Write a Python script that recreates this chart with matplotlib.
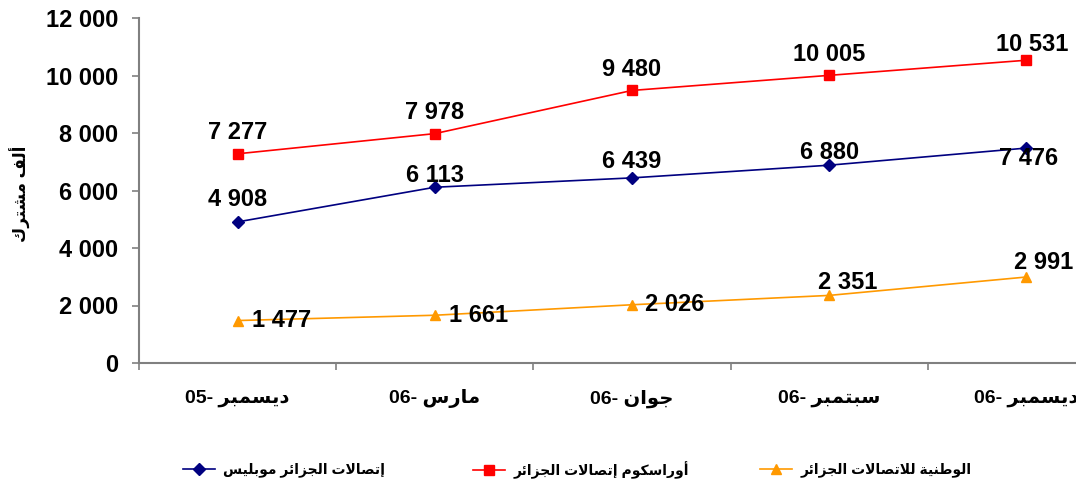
import matplotlib
matplotlib.use("Agg")
import matplotlib.pyplot as plt
from matplotlib.ticker import FixedLocator

# --- data ---
months = ["ديسمبر", "مارس", "جوان", "سبتمبر", "ديسمبر"]
years = ["05", "06", "06", "06", "06"]
mobilis = [4908, 6113, 6439, 6880, 7476]
djezzy = [7277, 7978, 9480, 10005, 10531]
nedjma = [1477, 1661, 2026, 2351, 2991]
names = ["إتصالات الجزائر موبليس", "أوراسكوم إتصالات الجزائر", "الوطنية للاتصالات الجزائر"]
y_title = "ألف مشترك"
y_ticks = [0, 2000, 4000, 6000, 8000, 10000, 12000]

# --- tiny arabic shaper (matplotlib has no shaping / bidi) ---
# char -> (first presentation-form codepoint, number of forms)
_forms = {
    "ء": (0xFE80, 1), "آ": (0xFE81, 2), "أ": (0xFE83, 2), "ؤ": (0xFE85, 2),
    "إ": (0xFE87, 2), "ئ": (0xFE89, 4), "ا": (0xFE8D, 2), "ب": (0xFE8F, 4),
    "ة": (0xFE93, 2), "ت": (0xFE95, 4), "ث": (0xFE99, 4), "ج": (0xFE9D, 4),
    "ح": (0xFEA1, 4), "خ": (0xFEA5, 4), "د": (0xFEA9, 2), "ذ": (0xFEAB, 2),
    "ر": (0xFEAD, 2), "ز": (0xFEAF, 2), "س": (0xFEB1, 4), "ش": (0xFEB5, 4),
    "ص": (0xFEB9, 4), "ض": (0xFEBD, 4), "ط": (0xFEC1, 4), "ظ": (0xFEC5, 4),
    "ع": (0xFEC9, 4), "غ": (0xFECD, 4), "ف": (0xFED1, 4), "ق": (0xFED5, 4),
    "ك": (0xFED9, 4), "ل": (0xFEDD, 4), "م": (0xFEE1, 4), "ن": (0xFEE5, 4),
    "ه": (0xFEE9, 4), "و": (0xFEED, 2), "ى": (0xFEEF, 2), "ي": (0xFEF1, 4),
}
_lamalef = {"آ": 0xFEF5, "أ": 0xFEF7, "إ": 0xFEF9, "ا": 0xFEFB}


def shape(s):
    toks = []
    i = 0
    while i < len(s):
        c = s[i]
        if c == "ل" and i + 1 < len(s) and s[i + 1] in _lamalef:
            toks.append((_lamalef[s[i + 1]], 2))
            i += 2
            continue
        if c in _forms:
            toks.append(_forms[c])
        else:
            toks.append((c, 0))
        i += 1
    out = []
    for k, (base, n) in enumerate(toks):
        if n == 0:
            out.append(base)
            continue
        prev_ok = k > 0 and toks[k - 1][1] == 4
        next_ok = n == 4 and k + 1 < len(toks) and toks[k + 1][1] > 0
        if n == 1:
            form = 0
        elif prev_ok and next_ok:
            form = 3
        elif prev_ok:
            form = 1
        elif next_ok:
            form = 2
        else:
            form = 0
        out.append(chr(base + form))
    return "".join(reversed(out))


fam = ["Liberation Sans", "DejaVu Sans"]
plt.rcParams["font.family"] = fam
plt.rcParams["font.weight"] = "bold"

fig = plt.figure(figsize=(10.76, 4.94), dpi=100)
# plot area runs past the right edge of the picture like in the reference
ax = fig.add_axes([139 / 1076, 131 / 494, 986 / 1076, 345 / 494])

x = list(range(len(months)))
series = [
    (mobilis, "#000080", "D", 6),
    (djezzy, "#FF0000", "s", 7),
    (nedjma, "#FF9900", "^", 7),
]
handles = []
for vals, col, mk, ms in series:
    h, = ax.plot(x, vals, color=col, lw=1.2, marker=mk, ms=ms, mec=col, mfc=col,
                 clip_on=False)
    handles.append(h)

# value labels (pixel offsets from the point)
lab_off = [
    [(0, 22), (0, 12), (0, 16), (0, 13), (2, -10)],
    [(0, 21), (0, 21), (0, 21), (0, 21), (6, 16)],
    [(44, 0), (44, 0), (43, 0), (18, 13), (17, 15)],
]
for (vals, col, mk, ms), offs in zip(series, lab_off):
    for xi, v, (dx, dy) in zip(x, vals, offs):
        ax.annotate(f"{v:,}".replace(",", " "), (xi, v), xytext=(dx, dy),
                    textcoords="offset pixels", ha="center", va="center",
                    fontsize=17, fontweight="bold", color="black")

ax.set_xlim(-0.5, 4.5)
ax.set_ylim(0, 12000)
ax.set_yticks(y_ticks)
ax.set_yticklabels([f"{v:,}".replace(",", " ") for v in y_ticks], fontsize=17,
                   fontweight="bold")
ax.set_xticks(x)
ax.set_xticklabels([f"{yr}- {shape(m)}" for m, yr in zip(months, years)],
                   fontsize=14, fontweight="bold")
ax.tick_params(axis="x", which="major", length=0, pad=19)
ax.xaxis.set_minor_locator(FixedLocator([-0.5, 0.5, 1.5, 2.5, 3.5, 4.5]))
ax.tick_params(axis="x", which="minor", length=5, width=1.2, color="#808080",
               direction="out")
ax.tick_params(axis="y", length=5, width=1.2, color="#808080", pad=10)

for s in ["top", "right"]:
    ax.spines[s].set_visible(False)
for s in ["left", "bottom"]:
    ax.spines[s].set_color("#808080")
    ax.spines[s].set_linewidth(1.5)

fig.text(20 / 1076, 1 - 194 / 494, shape(y_title), rotation=90, ha="center",
         va="center", fontsize=12, fontweight="bold")

# one legend per entry so the three entries sit on an even grid
leg_x = [183, 473, 760]
for h, name, lx in zip(handles, names, leg_x):
    leg = fig.legend([h], [shape(name)], loc="center left",
                     bbox_to_anchor=(lx / 1076, 1 - 470 / 494), frameon=False,
                     fontsize=10, handlelength=2.3, handletextpad=0.6,
                     borderpad=0, borderaxespad=0)

fig.savefig("out.png", dpi=100)
